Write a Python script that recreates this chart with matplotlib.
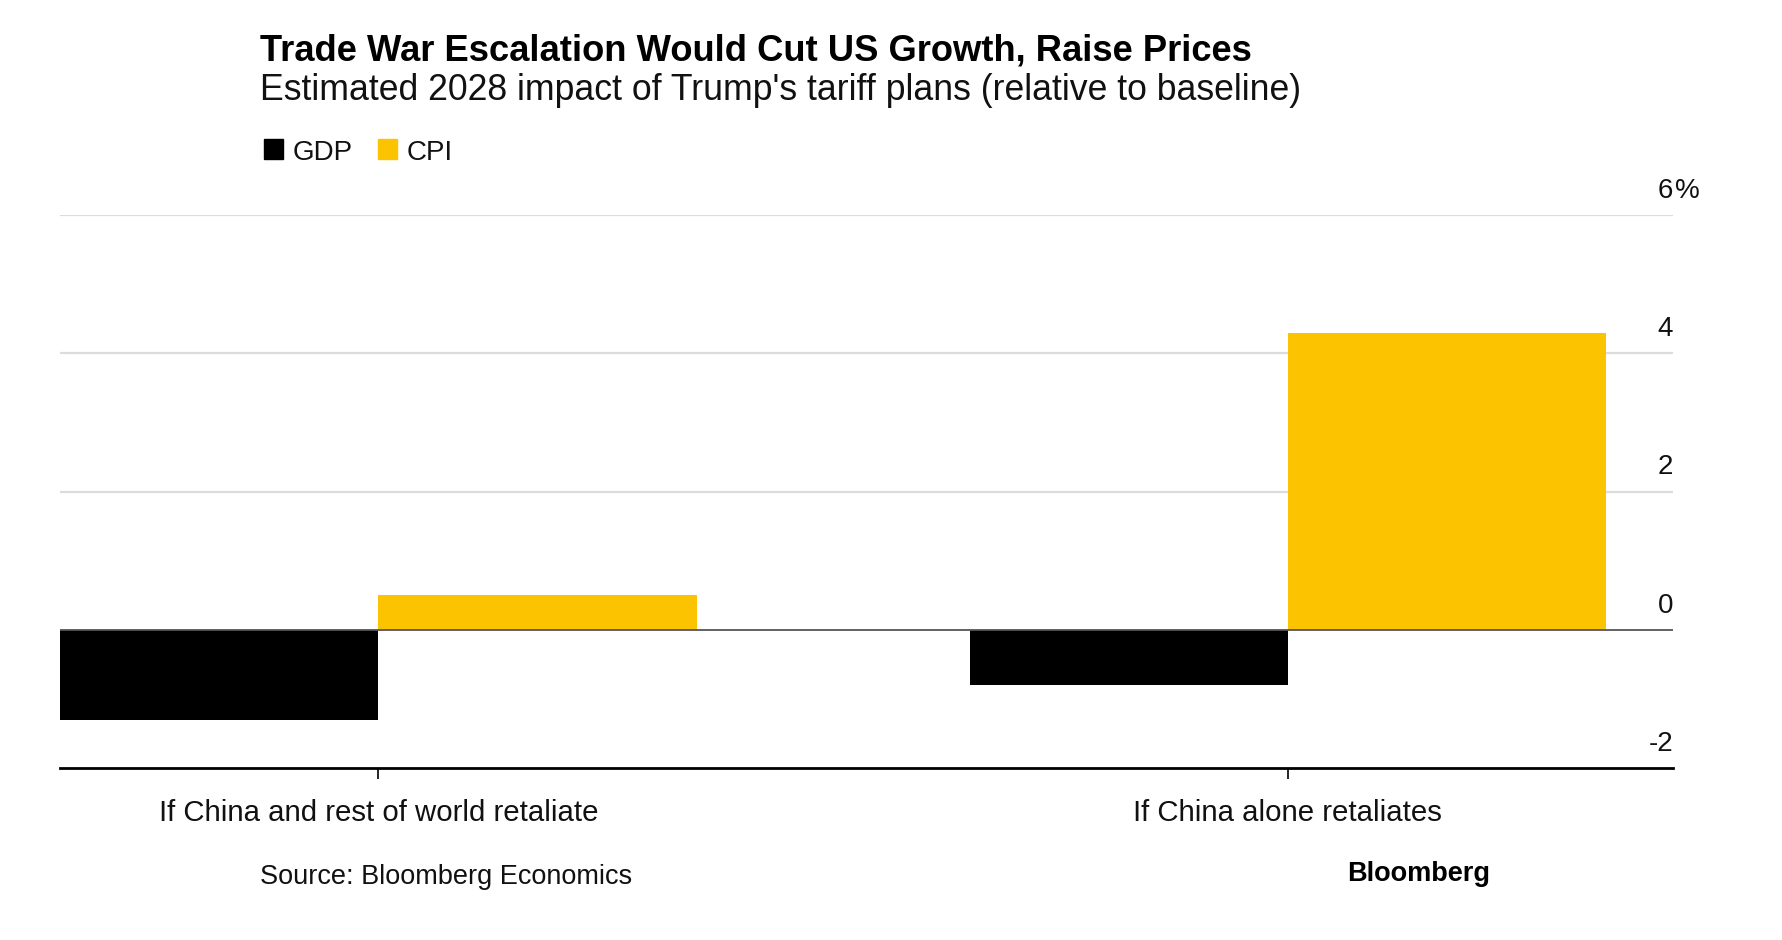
import matplotlib
matplotlib.use("Agg")
import matplotlib.pyplot as plt
import matplotlib.transforms as mtransforms
from matplotlib.patches import Rectangle
import numpy as np

plt.rcParams['font.family'] = ['Liberation Sans', 'DejaVu Sans']

# ---- data ----
categories = ["If China and rest of world retaliate", "If China alone retaliates"]
series_names = ["GDP", "CPI"]
gdp = [-1.3, -0.8]
cpi = [0.5, 4.3]
yticks = [-2, 0, 2, 4, 6]
ytick_labels = ["-2", "0", "2", "4", "6%"]

title = "Trade War Escalation Would Cut US Growth, Raise Prices"
subtitle = "Estimated 2028 impact of Trump's tariff plans (relative to baseline)"
source = "Source: Bloomberg Economics"
brand = "Bloomberg"

colors = ["#000000", "#FCC400"]

W, H = 1782, 940
fig = plt.figure(figsize=(W / 100, H / 100), dpi=100)

def fx(px):
    return px / W

def fy(py):
    return 1 - py / H

ax_left, ax_right = 60, 1673
ax_top, ax_bottom = 215, 768
ax = fig.add_axes([fx(ax_left), fy(ax_bottom), fx(ax_right - ax_left), (ax_bottom - ax_top) / H])

x = np.arange(len(categories))
bw = 0.35
ax.bar(x - bw / 2, gdp, width=bw, color=colors[0], zorder=3)
ax.bar(x + bw / 2, cpi, width=bw, color=colors[1], zorder=3)

ax.set_xlim(-0.35, 1.4234)
ax.set_ylim(-2, 6)

# grid lines
for v in yticks:
    if v > 0:
        ax.axhline(v, color="#dcdcdc", lw=1.6, zorder=1)
ax.axhline(0, color="#555555", lw=1.3, zorder=4)

for s in ["top", "left", "right"]:
    ax.spines[s].set_visible(False)
ax.spines["bottom"].set_color("#000000")
ax.spines["bottom"].set_linewidth(2.0)
ax.spines["bottom"].set_zorder(5)

ax.set_yticks([])
ax.set_xticks(x)
ax.set_xticklabels(categories, fontsize=21.2, color="#111111")
ax.tick_params(axis="x", length=8, width=1.2, color="#000000", pad=14)

# y tick labels on the right, above the lines
trans = mtransforms.blended_transform_factory(ax.transAxes, ax.transData)
off = mtransforms.offset_copy(trans, fig=fig, x=0, y=12.3, units="points")
for v, lab in zip(yticks, ytick_labels):
    num = lab.rstrip("%")
    suffix = lab[len(num):]
    ax.text(1.0, v, num, transform=off, ha="right", va="baseline",
            fontsize=20, color="#111111", clip_on=False)
    if suffix:
        off2 = mtransforms.offset_copy(trans, fig=fig, x=1.5, y=12.3, units="points")
        ax.text(1.0, v, suffix, transform=off2, ha="left", va="baseline",
                fontsize=20, color="#111111", clip_on=False)

# titles
fig.text(fx(260), fy(60), title, fontsize=26.2, fontweight="bold", ha="left", va="baseline", color="#000000")
fig.text(fx(260), fy(100), subtitle, fontsize=25.7, ha="left", va="baseline", color="#111111")

# legend
leg_x = [264, 378]
for name, c, lx in zip(series_names, colors, leg_x):
    fig.patches.append(Rectangle((fx(lx), fy(159)), fx(19), 20 / H, color=c,
                                 transform=fig.transFigure, figure=fig))
    fig.text(fx(lx + 29), fy(160), name, fontsize=20, ha="left", va="baseline", color="#111111")

# footer
fig.text(fx(260), fy(884), source, fontsize=19.5, ha="left", va="baseline", color="#111111")
fig.text(fx(1347), fy(881), brand, fontsize=19.5, fontweight="bold", ha="left", va="baseline", color="#000000")

fig.savefig("out.png", dpi=100, facecolor="white")
